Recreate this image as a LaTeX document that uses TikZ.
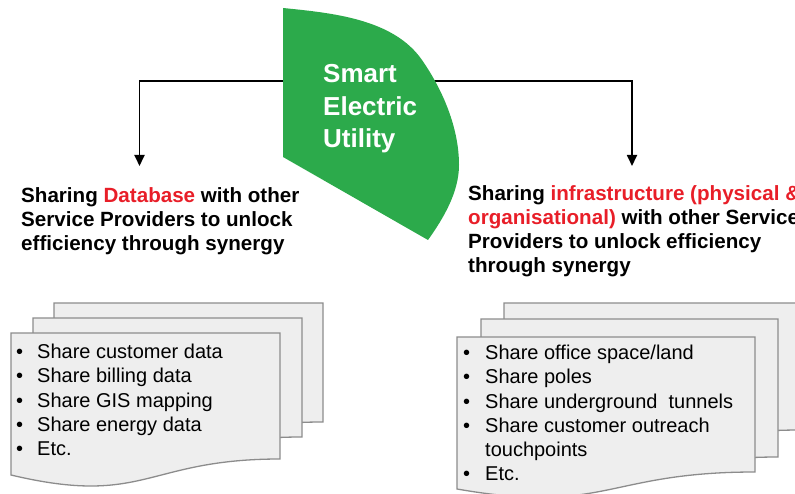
\documentclass[tikz,border=0pt]{standalone}
\usepackage{fontspec}
\setmainfont{Liberation Sans}
\usetikzlibrary{arrows.meta}

\definecolor{hubgreen}{RGB}{44,170,75}
\definecolor{keyred}{RGB}{232,30,40}
\definecolor{sheetfill}{RGB}{238,238,238}
\definecolor{sheetline}{RGB}{140,140,140}

% one sheet of a document stack: top-left x, top y, right x,
% right bottom y, left bottom y, depth of the wave's control point
\newcommand\docsheet[6]{%
  \path[sheet] (#1,#2) -- (#3,#2) -- (#3,#4)
    .. controls ({(#1+#3)/2},#4) and ({(#1+#3)/2},#6) .. (#1,#5) -- cycle;}

\newcommand\bulL{\makebox[21bp][l]{•}}
\newcommand\bulR{\makebox[22bp][l]{•}}

\begin{document}
\begin{tikzpicture}[x=1bp,y=-1bp,
  sheet/.style={draw=sheetline, fill=sheetfill, line width=1.3bp},
  link/.style={line width=1.8bp, -{Triangle[width=10bp,length=11bp]}},
  headtxt/.style={anchor=north west, inner sep=0pt, align=left,
    font=\bfseries\fontsize{20.6bp}{24bp}\selectfont},
  listtxt/.style={anchor=north west, inner sep=0pt, align=left,
    font=\fontsize{20bp}{24.2bp}\selectfont},
  hubtxt/.style={anchor=north west, inner sep=0pt, align=left, text=white,
    font=\bfseries\fontsize{26bp}{32.5bp}\selectfont},
]
\useasboundingbox (0,0) rectangle (795,494);
\clip (0,0) rectangle (795,494);

% left document stack
\docsheet{54}{303}{323}{422}{441}{467}
\docsheet{33}{318}{302}{437}{453}{482}
\docsheet{11}{333}{280}{459}{475}{507}

% right document stack
\docsheet{504}{303}{801}{430}{451}{478}
\docsheet{481}{319}{778}{457}{478}{509}
\docsheet{457}{337}{755}{472}{489}{515}

% headings
\node[headtxt] (dbhead) at (21,187)
  {Sharing \textcolor{keyred}{Database} with other\\
   Service Providers to unlock\\
   efficiency through synergy};
\node[headtxt] (infrahead) at (468,185.5)
  {Sharing \textcolor{keyred}{infrastructure (physical \&}\\
   \textcolor{keyred}{organisational)} with other Service\\
   Providers to unlock efficiency\\
   through synergy};

% bullet lists
\node[listtxt] (dblist) at (16,344)
  {\bulL Share customer data\\
   \bulL Share billing data\\
   \bulL Share GIS mapping\\
   \bulL Share energy data\\
   \bulL Etc.};
\node[listtxt] (infralist) at (463,345)
  {\bulR Share office space/land\\
   \bulR Share poles\\
   \bulR Share underground~ tunnels\\
   \bulR Share customer outreach\\
   \hspace*{22bp}touchpoints\\
   \bulR Etc.};

% connectors from the hub
\coordinate (hubW) at (284,80.7);
\coordinate (hubE) at (425,80.7);
\coordinate (tipL) at (139.5,166);
\coordinate (tipR) at (632,166);
\draw[link] (hubW) -| (tipL);
\draw[link] (hubE) -| (tipR);

% hub shape
\fill[hubgreen] (283,8) -- (283,157) -- (428,240)
  .. controls (443.7,218) and (459,192) .. (459,165)
  .. controls (459,128) and (443,90.3) .. (422,60)
  .. controls (393.5,19) and (333,13) .. cycle;
\node[hubtxt] (hub) at (323,64.5) {Smart\\Electric\\Utility};
\end{tikzpicture}
\end{document}
